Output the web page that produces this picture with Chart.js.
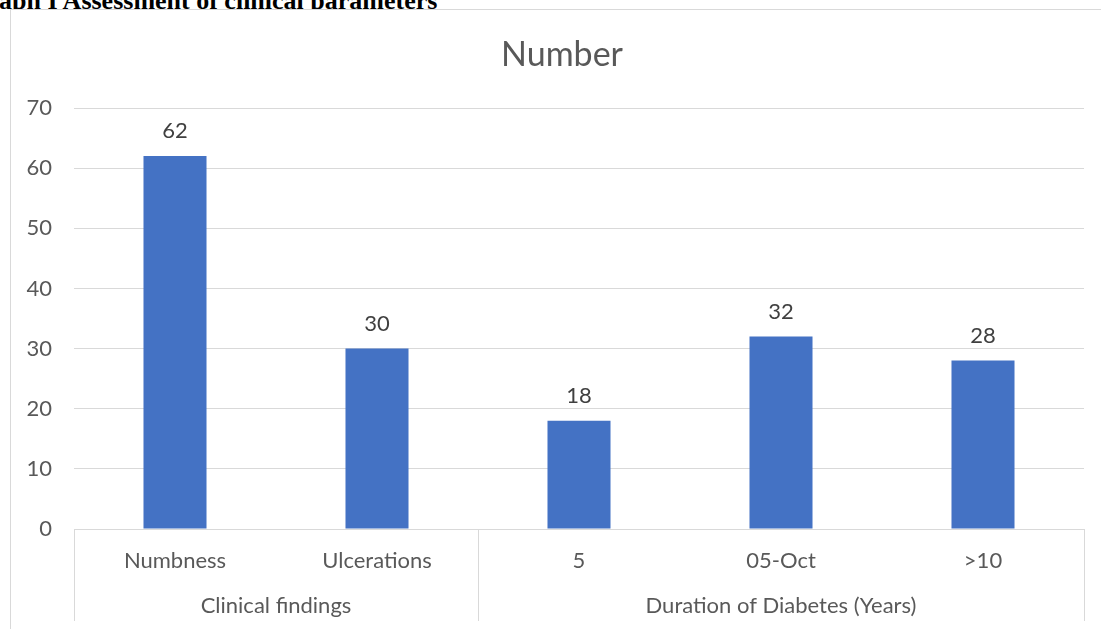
<!DOCTYPE html>
<html>
<head>
<meta charset="utf-8">
<script src="https://cdn.jsdelivr.net/npm/chart.js@4.4.0/dist/chart.umd.min.js"></script>
<style>
  body { margin: 0; background: #fff; overflow: hidden; }
  #heading {
    position: absolute; left: -1px; top: -14px;
    font-family: "Liberation Serif", "Times New Roman", serif;
    font-weight: bold; font-size: 26px; color: #000; white-space: nowrap;
  }
  #frame {
    position: absolute; left: 10px; top: 9px; width: 1100px; height: 630px;
    border-left: 1px solid #d9d9d9; border-top: 1px solid #d9d9d9;
    background: #fff;
  }
  #wrap { position: absolute; left: 0; top: 0; width: 1101px; height: 629px; }
</style>
</head>
<body>
<div id="heading">aph I Assessment of clinical parameters</div>
<div id="frame"></div>
<div id="wrap"><canvas id="chart1"></canvas></div>
<script>
// data
var categories = ["Numbness", "Ulcerations", "5", "05-Oct", ">10"];
var values = [62, 30, 18, 32, 28];
var groups = ["Clinical findings", "Duration of Diabetes (Years)"];
var groupSizes = [2, 3];
var yTicks = [0, 10, 20, 30, 40, 50, 60, 70];

var textColor = "#595959";
var gridColor = "#d9d9d9";
var fontName = "Lato, Carlito, Calibri, sans-serif";

const ctx = document.getElementById("chart1");

var myChart = new Chart(ctx, {
  type: "bar",
  data: {
    labels: categories,
    datasets: [
      {
        label: "Number",
        data: values,
        backgroundColor: "#4472c4",
        categoryPercentage: 1,
        barPercentage: 0.312,
      },
    ],
  },
  options: {
    responsive: true,
    maintainAspectRatio: false,
    animation: false,
    events: [],
    layout: {
      padding: { left: 0, right: 17, top: 108, bottom: 0 },
    },
    plugins: {
      legend: { display: false },
      tooltip: { enabled: false },
      title: { display: false },
    },
    scales: {
      x: {
        grid: { display: false, drawTicks: false },
        border: { display: false },
        ticks: {
          padding: 19,
          color: textColor,
          font: { family: fontName, size: 22 },
        },
        afterFit: function (scale) {
          scale.height = 100;
        },
      },
      y: {
        min: 0,
        max: yTicks[yTicks.length - 1],
        afterBuildTicks: function (scale) {
          scale.ticks = yTicks.map(function (v) {
            return { value: v };
          });
        },
        grid: { color: gridColor, lineWidth: 1, drawTicks: false },
        border: { display: false },
        ticks: {
          padding: 22,
          color: textColor,
          font: { family: fontName, size: 22 },
        },
        afterFit: function (scale) {
          scale.width = 74;
        },
      },
    },
  },
  plugins: [
    {
      id: "extras",
      afterDraw: (chart) => {
        const { ctx, chartArea, scales } = chart;
        var x = scales.x;
        ctx.save();

        // title, centred on the whole chart frame
        ctx.fillStyle = textColor;
        ctx.font = "34px " + fontName;
        ctx.textAlign = "center";
        ctx.textBaseline = "middle";
        ctx.fillText("Number", 562, 55);

        // value labels above bars
        ctx.fillStyle = "#404040";
        ctx.font = "22px " + fontName;
        var meta = chart.getDatasetMeta(0);
        meta.data.forEach(function (bar, i) {
          ctx.fillText(String(values[i]), bar.x, bar.y - 25);
        });

        // group separators and group labels
        var half = (x.getPixelForValue(1) - x.getPixelForValue(0)) / 2;
        var top = chartArea.bottom;
        var bottom = 621;
        ctx.strokeStyle = gridColor;
        ctx.lineWidth = 1;
        var start = 0;
        var edges = [x.getPixelForValue(0) - half];
        groups.forEach(function (g, gi) {
          var end = start + groupSizes[gi] - 1;
          var left = x.getPixelForValue(start) - half;
          var right = x.getPixelForValue(end) + half;
          edges.push(right);
          ctx.fillStyle = textColor;
          ctx.fillText(g, (left + right) / 2, 606);
          start = end + 1;
        });
        edges.forEach(function (ex) {
          var px = Math.round(ex) + 0.5;
          ctx.beginPath();
          ctx.moveTo(px, top);
          ctx.lineTo(px, bottom);
          ctx.stroke();
        });
        ctx.restore();
      },
    },
  ],
});
</script>
</body>
</html>
